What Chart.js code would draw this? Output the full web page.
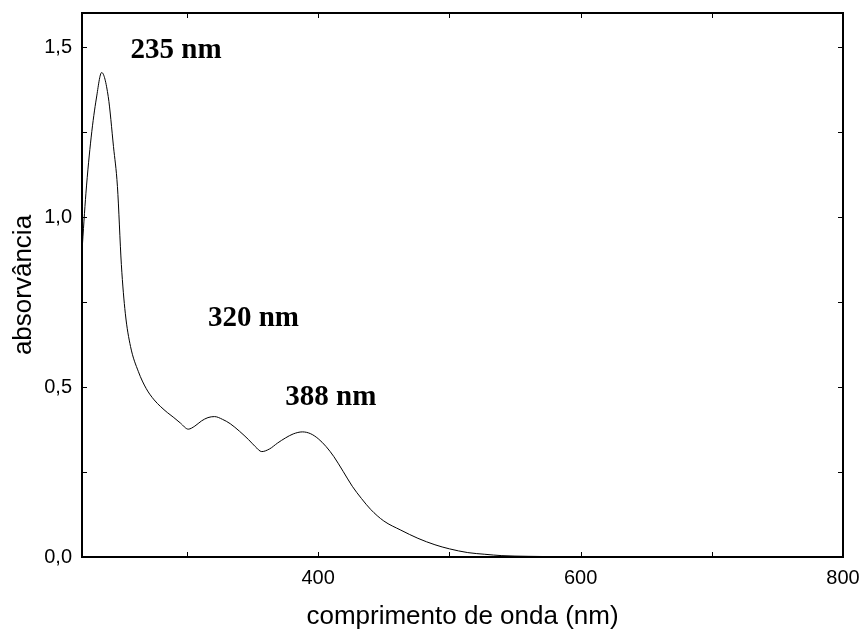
<!DOCTYPE html>
<html>
<head>
<meta charset="utf-8">
<script src="https://cdn.jsdelivr.net/npm/chart.js@4.4.1/dist/chart.umd.min.js"></script>
<style>
  body { margin: 0; background: #fff; }
  #wrap { width: 864px; height: 642px; }
</style>
</head>
<body>
<div id="wrap"><canvas id="chart" width="864" height="642"></canvas></div>
<script>
// espectro UV-vis: comprimento de onda (nm) e absorvância
const wavelength = [220, 223, 227, 231, 235, 240, 244, 247, 250, 253, 257, 263, 269, 275, 280, 285, 290, 295,
    301, 306, 311, 316, 321, 327, 333, 340, 347, 352, 357, 363, 369, 375, 381, 388, 394, 400, 406, 412,
    419, 426, 433, 440, 450, 463, 476, 489, 500, 514, 527, 540, 560, 580, 600, 650, 700, 750, 800];
const absorbance = [0.90, 1.07, 1.235, 1.35, 1.425, 1.354, 1.207, 1.09, 0.86, 0.717, 0.619, 0.545, 0.495, 0.462,
    0.442, 0.425, 0.410, 0.394, 0.376, 0.385, 0.400, 0.410, 0.413, 0.405, 0.392, 0.37, 0.345, 0.325, 0.31,
    0.318, 0.335, 0.35, 0.362, 0.368, 0.363, 0.348, 0.325, 0.295, 0.252, 0.208, 0.172, 0.140, 0.106, 0.079,
    0.055, 0.036, 0.024, 0.013, 0.008, 0.004, 0.002, 0.001, 0, 0, 0, 0, 0];

// marcas dos eixos
const xTickValues = [400, 600, 800];
const xMinorValues = [300, 500, 700];
const yTickValues = [0, 0.5, 1.0, 1.5];
const yMinorValues = [0.25, 0.75, 1.25];

// textos dos picos (posição em unidades dos dados)
const peakText = ['235 nm', '320 nm', '388 nm'];
const peakTextX = [257, 316, 375];
const peakTextY = [1.49, 0.70, 0.47];

// moldura + ticks para dentro, e os textos dos picos
const framePlugin = {
    id: 'frame',
    afterDraw(chart) {
        const ctx = chart.ctx;
        const a = chart.chartArea;
        const xs = chart.scales.x, ys = chart.scales.y;
        ctx.save();
        ctx.strokeStyle = '#000';
        ctx.lineWidth = 1;
        const len = 5;
        xTickValues.concat(xMinorValues).forEach(v => {
            const px = Math.round(xs.getPixelForValue(v)) + 0.5;
            ctx.beginPath();
            ctx.moveTo(px, a.bottom); ctx.lineTo(px, a.bottom - len);
            ctx.moveTo(px, a.top); ctx.lineTo(px, a.top + len);
            ctx.stroke();
        });
        yTickValues.concat(yMinorValues).forEach(v => {
            const py = Math.round(ys.getPixelForValue(v)) + 0.5;
            ctx.beginPath();
            ctx.moveTo(a.left, py); ctx.lineTo(a.left + len, py);
            ctx.moveTo(a.right, py); ctx.lineTo(a.right - len, py);
            ctx.stroke();
        });
        ctx.lineWidth = 2;
        ctx.strokeRect(a.left, a.top, a.right - a.left, a.bottom - a.top);

        ctx.fillStyle = '#000';
        ctx.font = "bold 29px 'Liberation Serif', 'Times New Roman', serif";
        ctx.textAlign = 'left';
        ctx.textBaseline = 'middle';
        for (let i = 0; i < peakText.length; i++) {
            ctx.fillText(peakText[i], xs.getPixelForValue(peakTextX[i]), ys.getPixelForValue(peakTextY[i]));
        }
        ctx.restore();
    }
};

const points = wavelength.map((w, i) => ({ x: w, y: absorbance[i] }));

let spectrum = new Chart(document.getElementById('chart').getContext('2d'), {
    type: 'line',
    data: {
        datasets: [{
            data: points,
            borderColor: '#000',
            borderWidth: 1,
            pointRadius: 0,
            fill: false,
            cubicInterpolationMode: 'monotone'
        }]
    },
    options: {
        responsive: false,
        animation: false,
        layout: { padding: { top: 13, right: 21, left: 0, bottom: 0 } },
        plugins: { legend: { display: false }, tooltip: { enabled: false } },
        scales: {
            x: {
                type: 'linear',
                min: 220,
                max: 800,
                afterBuildTicks: s => { s.ticks = xTickValues.map(v => ({ value: v })); },
                afterFit: s => { s.height = 85; s.paddingLeft = 0; s.paddingRight = 0; },
                grid: { display: false, drawTicks: false },
                border: { display: false },
                ticks: {
                    padding: 9,
                    color: '#000',
                    maxRotation: 0,
                    font: { family: "'Liberation Sans', Arial, sans-serif", size: 20 },
                    callback: v => String(v)
                },
                title: {
                    display: true,
                    text: 'comprimento de onda (nm)',
                    color: '#000',
                    padding: { top: 0, bottom: 10 },
                    font: { family: "'Liberation Sans', Arial, sans-serif", size: 26 }
                }
            },
            y: {
                min: 0,
                max: 1.6,
                afterBuildTicks: s => { s.ticks = yTickValues.map(v => ({ value: v })); },
                afterFit: s => { s.width = 82; s.paddingTop = 0; s.paddingBottom = 0; },
                grid: { display: false, drawTicks: false },
                border: { display: false },
                ticks: {
                    padding: 10,
                    color: '#000',
                    font: { family: "'Liberation Sans', Arial, sans-serif", size: 20 },
                    callback: v => v.toFixed(1).replace('.', ',')
                },
                title: {
                    display: true,
                    text: 'absorvância',
                    color: '#000',
                    padding: { top: 8, bottom: 0 },
                    font: { family: "'Liberation Sans', Arial, sans-serif", size: 26 }
                }
            }
        }
    },
    plugins: [framePlugin]
});
</script>
</body>
</html>
